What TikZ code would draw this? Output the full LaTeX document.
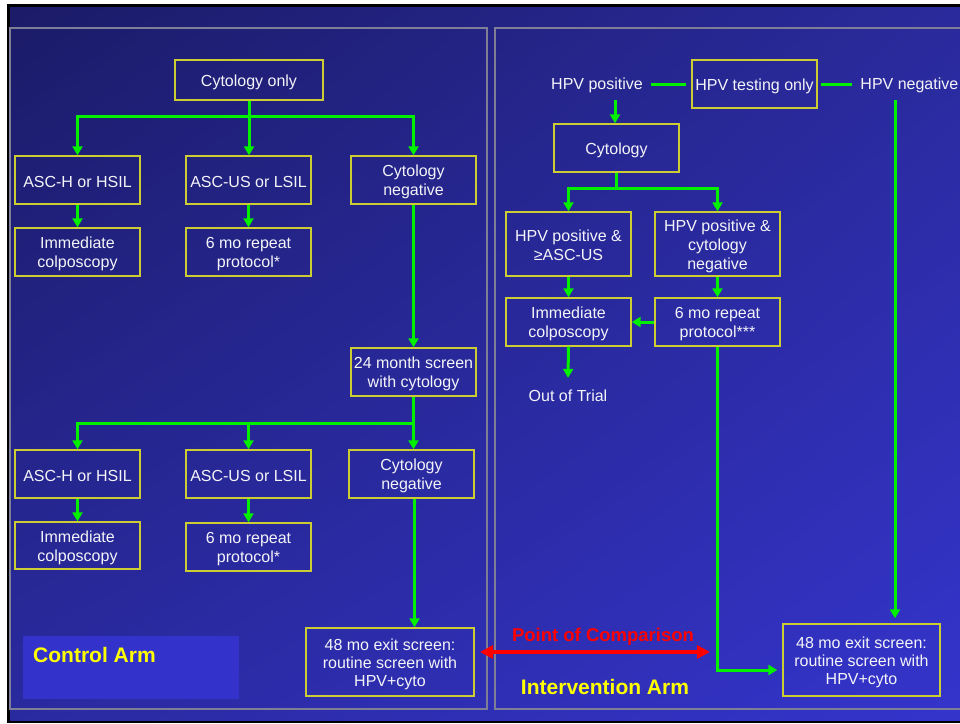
\documentclass[tikz,border=0pt]{standalone}
\usepackage{fontspec}
\setmainfont{Liberation Sans}
\usetikzlibrary{arrows.meta,shadings}

\definecolor{bgUL}{HTML}{1B1B68}
\definecolor{bgUR}{HTML}{2A2A9C}
\definecolor{bgLL}{HTML}{2A2AA0}
\definecolor{bgLR}{HTML}{3434CC}
\definecolor{armfill}{HTML}{3333CC}
\definecolor{panelc}{HTML}{7E7E96}
\definecolor{boxc}{HTML}{CCCC33}
\definecolor{grn}{HTML}{00F000}
\definecolor{txtc}{HTML}{F4F4F8}
\definecolor{armtxt}{HTML}{FFFF00}
\definecolor{cmpred}{HTML}{FF0000}

% line struts: box lines get extra room above, free labels the plain font extent
\newcommand{\lnstrut}{\rule[-2.2pt]{0pt}{18.4pt}}
\newcommand{\lblstrut}{\rule[-3.4pt]{0pt}{17.9pt}}

\tikzset{
  box/.style={draw=boxc, line width=1.4pt, text=txtc, align=center, inner sep=0pt,
              minimum width=125pt, minimum height=48pt,
              font=\fontsize{16}{19}\selectfont,
              execute at end node=\lnstrut},
  lbl/.style={text=txtc, inner sep=0pt, font=\fontsize{16}{19}\selectfont,
              execute at begin node=\lblstrut},
  armlbl/.style={text=armtxt, inner sep=0pt, font=\fontsize{21}{24}\selectfont\bfseries},
  gline/.style={draw=grn, line width=3pt},
  garrow/.style={gline, -{Triangle[length=9pt,width=10pt]}},
  redarrow/.style={draw=cmpred, line width=4pt,
                   {Triangle[length=13pt,width=13pt]}-{Triangle[length=13pt,width=13pt]}},
  panel/.style={draw=panelc, line width=1.4pt},
}

\begin{document}
\begin{tikzpicture}[x=1pt,y=-1pt]
\useasboundingbox (0,0) rectangle (960,723);
\clip (0,0) rectangle (960,723);

% slide background with dark frame
\fill[white] (0,0) rectangle (960,723);
\fill[black] (7,4) rectangle (960,723);
\shade[upper left=bgUL, upper right=bgUR, lower left=bgLL, lower right=bgLR]
  (10,7) rectangle (960,720);

% the two arm panels
\draw[panel] (10,28) rectangle (487,709);
\draw[panel] (495,28) rectangle (975,709);

% ---------------- control arm ----------------
\node[box, minimum width=148pt, minimum height=40pt] (cytoOnly) at (249,80) {\lnstrut Cytology only};

\node[box] (ascH1)  at (77.5,180)  {\lnstrut ASC-H or HSIL};
\node[box] (ascUS1) at (248.5,180) {\lnstrut ASC-US or LSIL};
\node[box] (cneg1)  at (413.5,180) {\lnstrut Cytology\\negative};

\node[box] (colpo1) at (77.5,252)  {\lnstrut Immediate\\colposcopy};
\node[box] (rep1)   at (248.5,252) {\lnstrut 6 mo repeat\\protocol*};

\node[box] (scr24)  at (413.5,372) {\lnstrut 24 month screen\\with cytology};

\node[box] (ascH2)  at (77.5,474)  {\lnstrut ASC-H or HSIL};
\node[box] (ascUS2) at (248.5,474) {\lnstrut ASC-US or LSIL};
\node[box] (cneg2)  at (411.5,474) {\lnstrut Cytology\\negative};

\node[box, minimum height=47pt] (colpo2) at (77.5,545.5) {\lnstrut Immediate\\colposcopy};
\node[box] (rep2)   at (248.5,547) {\lnstrut 6 mo repeat\\protocol*};

\node[box, minimum width=168pt, minimum height=68pt, font=\fontsize{16}{18.2}\selectfont]
  (exitL) at (390,662)
  {\lnstrut 48 mo exit screen:\\routine screen with\\HPV+cyto};

\node[fill=armfill, minimum width=216pt, minimum height=63pt, inner sep=0pt,
      anchor=north west] (ctrlBox) at (23,636) {};
\node[armlbl, anchor=west] (ctrlTxt) at (33,655) {Control Arm};

\draw[garrow] (cytoOnly.south) -- ++(0,16) -| (ascH1.north);
\draw[garrow] (cytoOnly.south) -- ++(0,16) -| (cneg1.north);
\draw[garrow] (cytoOnly.south) -- (cytoOnly.south |- ascUS1.north);
\draw[garrow] (ascH1.south) -- (colpo1.north);
\draw[garrow] (ascUS1.south) -- (rep1.north);
\draw[garrow] (cneg1.south) -- (scr24.north);

\draw[garrow] (scr24.south) -- ++(0,27) -| (ascH2.north);
\draw[garrow] (scr24.south) -- ++(0,27) -| (ascUS2.north);
\draw[garrow] (scr24.south) -- (scr24.south |- cneg2.north);
\draw[garrow] (ascH2.south) -- (colpo2.north);
\draw[garrow] (ascUS2.south) -- (rep2.north);
\draw[garrow] ([xshift=3pt]cneg2.south) -- ([xshift=3pt]cneg2.south |- exitL.north);

% ---------------- intervention arm ----------------
\node[box] (hpvTest) at (754.5,84) {\lnstrut HPV testing only};
\node[lbl] (hpvPos) at (597,84) {HPV positive};
\node[lbl, anchor=east] (hpvNeg) at (958.5,84) {HPV negative};

\node[box] (cytoR) at (616.5,148) {\lnstrut Cytology};

\node[box, minimum height=64pt] (posAsc) at (568.5,244) {\lnstrut HPV positive \&\\≥ASC-US};
\node[box, minimum height=64pt] (posNeg) at (717.5,244) {\lnstrut HPV positive \&\\cytology\\negative};

\node[box] (colpoR) at (568.5,322) {\lnstrut Immediate\\colposcopy};
\node[box] (repR)   at (717.5,322) {\lnstrut 6 mo repeat\\protocol***};

\node[lbl] (outTrial) at (568,396) {Out of Trial};

\node[box, minimum width=157pt, minimum height=72pt, font=\fontsize{16}{18.2}\selectfont]
  (exitR) at (861.5,660)
  {\lnstrut 48 mo exit screen:\\routine screen with\\HPV+cyto};

\coordinate (posDrop) at (615,100);
\coordinate (negDrop) at (895,100);

\draw[gline] ([xshift=8pt]hpvPos.east) -- ([xshift=-5pt]hpvTest.west);
\draw[gline] ([xshift=3pt]hpvTest.east) -- ([xshift=-8pt]hpvNeg.west);
\draw[garrow] (posDrop) -- (posDrop |- cytoR.north);

\draw[garrow] (cytoR.south) -- ++(0,16) -| (posAsc.north);
\draw[garrow] (cytoR.south) -- ++(0,16) -| (posNeg.north);
\draw[garrow] (posAsc.south) -- (colpoR.north);
\draw[garrow] (posNeg.south) -- (repR.north);
\draw[garrow] (repR.west) -- (colpoR.east);
\draw[garrow] (colpoR.south) -- ([yshift=9pt]outTrial.north);
\draw[garrow] (repR.south) |- ([yshift=-10pt,xshift=-5pt]exitR.west);
\draw[garrow] (negDrop) -- ([yshift=5pt]negDrop |- exitR.north);

% comparison between the two exit screens
\coordinate (cmpL) at (480,652);
\coordinate (cmpR) at (710,652);
\draw[redarrow] (cmpL) -- (cmpR);
\node[text=cmpred, inner sep=0pt, font=\fontsize{18.5}{22}\selectfont\bfseries]
  (cmpTxt) at (603,637) {Point of Comparison};

\node[armlbl] (intTxt) at (605,687) {Intervention Arm};
\end{tikzpicture}
\end{document}
